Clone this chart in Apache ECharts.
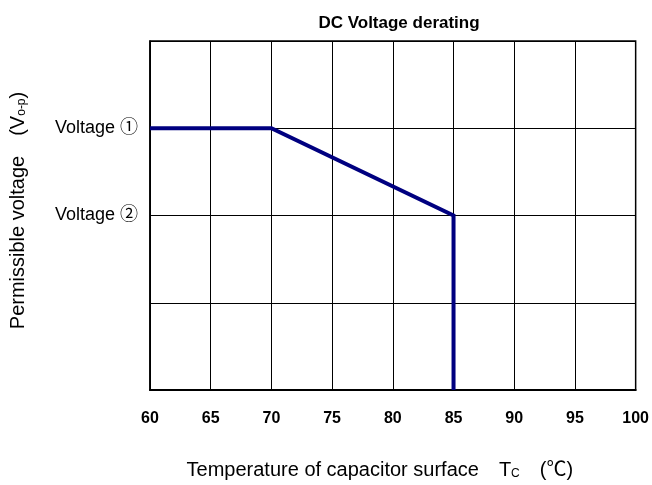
<!DOCTYPE html>
<html>
<head>
<meta charset="utf-8">
<script src="https://cdn.jsdelivr.net/npm/echarts@6/dist/echarts.min.js"></script>
<style>
    html, body { margin: 0; padding: 0; background: #fff; }
    #main { width: 652px; height: 485px; }
</style>
</head>
<body>
<div id="main"></div>
<script>
// 数据
var temps = [60, 70, 85, 85];
var volts = [3, 3, 2, 0];
var xTicks = [60, 65, 70, 75, 80, 85, 90, 95, 100];
var yLabels = {3: 'Voltage ①', 2: 'Voltage ②'};

var font = '"Liberation Sans", Arial, "Noto Sans CJK JP", sans-serif';

var chart = echarts.init(document.getElementById('main'));
var points = temps.map(function (t, i) {
    return [t, volts[i]];
});

chart.setOption({
    animation: false,
    title: {
        text: 'DC Voltage derating',
        left: 394,
        top: 10,
        textAlign: 'center',
        textStyle: {fontFamily: font, fontSize: 17, fontWeight: 'bold', color: '#000'}
    },
    grid: {
        left: 149, right: 15, top: 41, bottom: 95,
        show: true, borderColor: '#000', borderWidth: 1.5
    },
    xAxis: {
        type: 'value',
        min: xTicks[0],
        max: xTicks[xTicks.length - 1],
        interval: 5,
        axisLine: {show: true, lineStyle: {color: '#000', width: 2}},
        axisTick: {show: false},
        splitLine: {show: true, lineStyle: {color: '#000', width: 1}},
        axisLabel: {
            margin: 21,
            fontFamily: font, fontSize: 16, fontWeight: 'bold', color: '#000'
        },
        name: 'Temperature of capacitor surface　T{sub|C}　(℃)',
        nameLocation: 'middle',
        nameGap: 70,
        nameTextStyle: {
            fontFamily: font, fontSize: 20, color: '#000',
            padding: [0, 26, 0, 0],
            rich: {sub: {fontFamily: font, fontSize: 12, color: '#000', padding: [7, 0, 0, 0]}}
        }
    },
    yAxis: {
        type: 'value',
        min: 0,
        max: 4,
        interval: 1,
        axisLine: {show: true, lineStyle: {color: '#000', width: 1.5}},
        axisTick: {show: false},
        splitLine: {show: true, lineStyle: {color: '#000', width: 1}},
        axisLabel: {
            margin: 12,
            fontFamily: font, fontSize: 18, color: '#000',
            formatter: function (v) {
                return yLabels[v] || '';
            }
        },
        name: 'Permissible voltage　(V{sub|o-p})',
        nameLocation: 'middle',
        nameGap: 122,
        nameRotate: 90,
        nameTextStyle: {
            fontFamily: font, fontSize: 20, color: '#000',
            padding: [0, 0, 0, 10],
            rich: {sub: {fontFamily: font, fontSize: 12, color: '#000', padding: [7, 0, 0, 0]}}
        }
    },
    series: [{
        type: 'line',
        data: points,
        symbol: 'none',
        lineStyle: {color: '#000080', width: 4, join: 'miter'}
    }]
});
</script>
</body>
</html>
